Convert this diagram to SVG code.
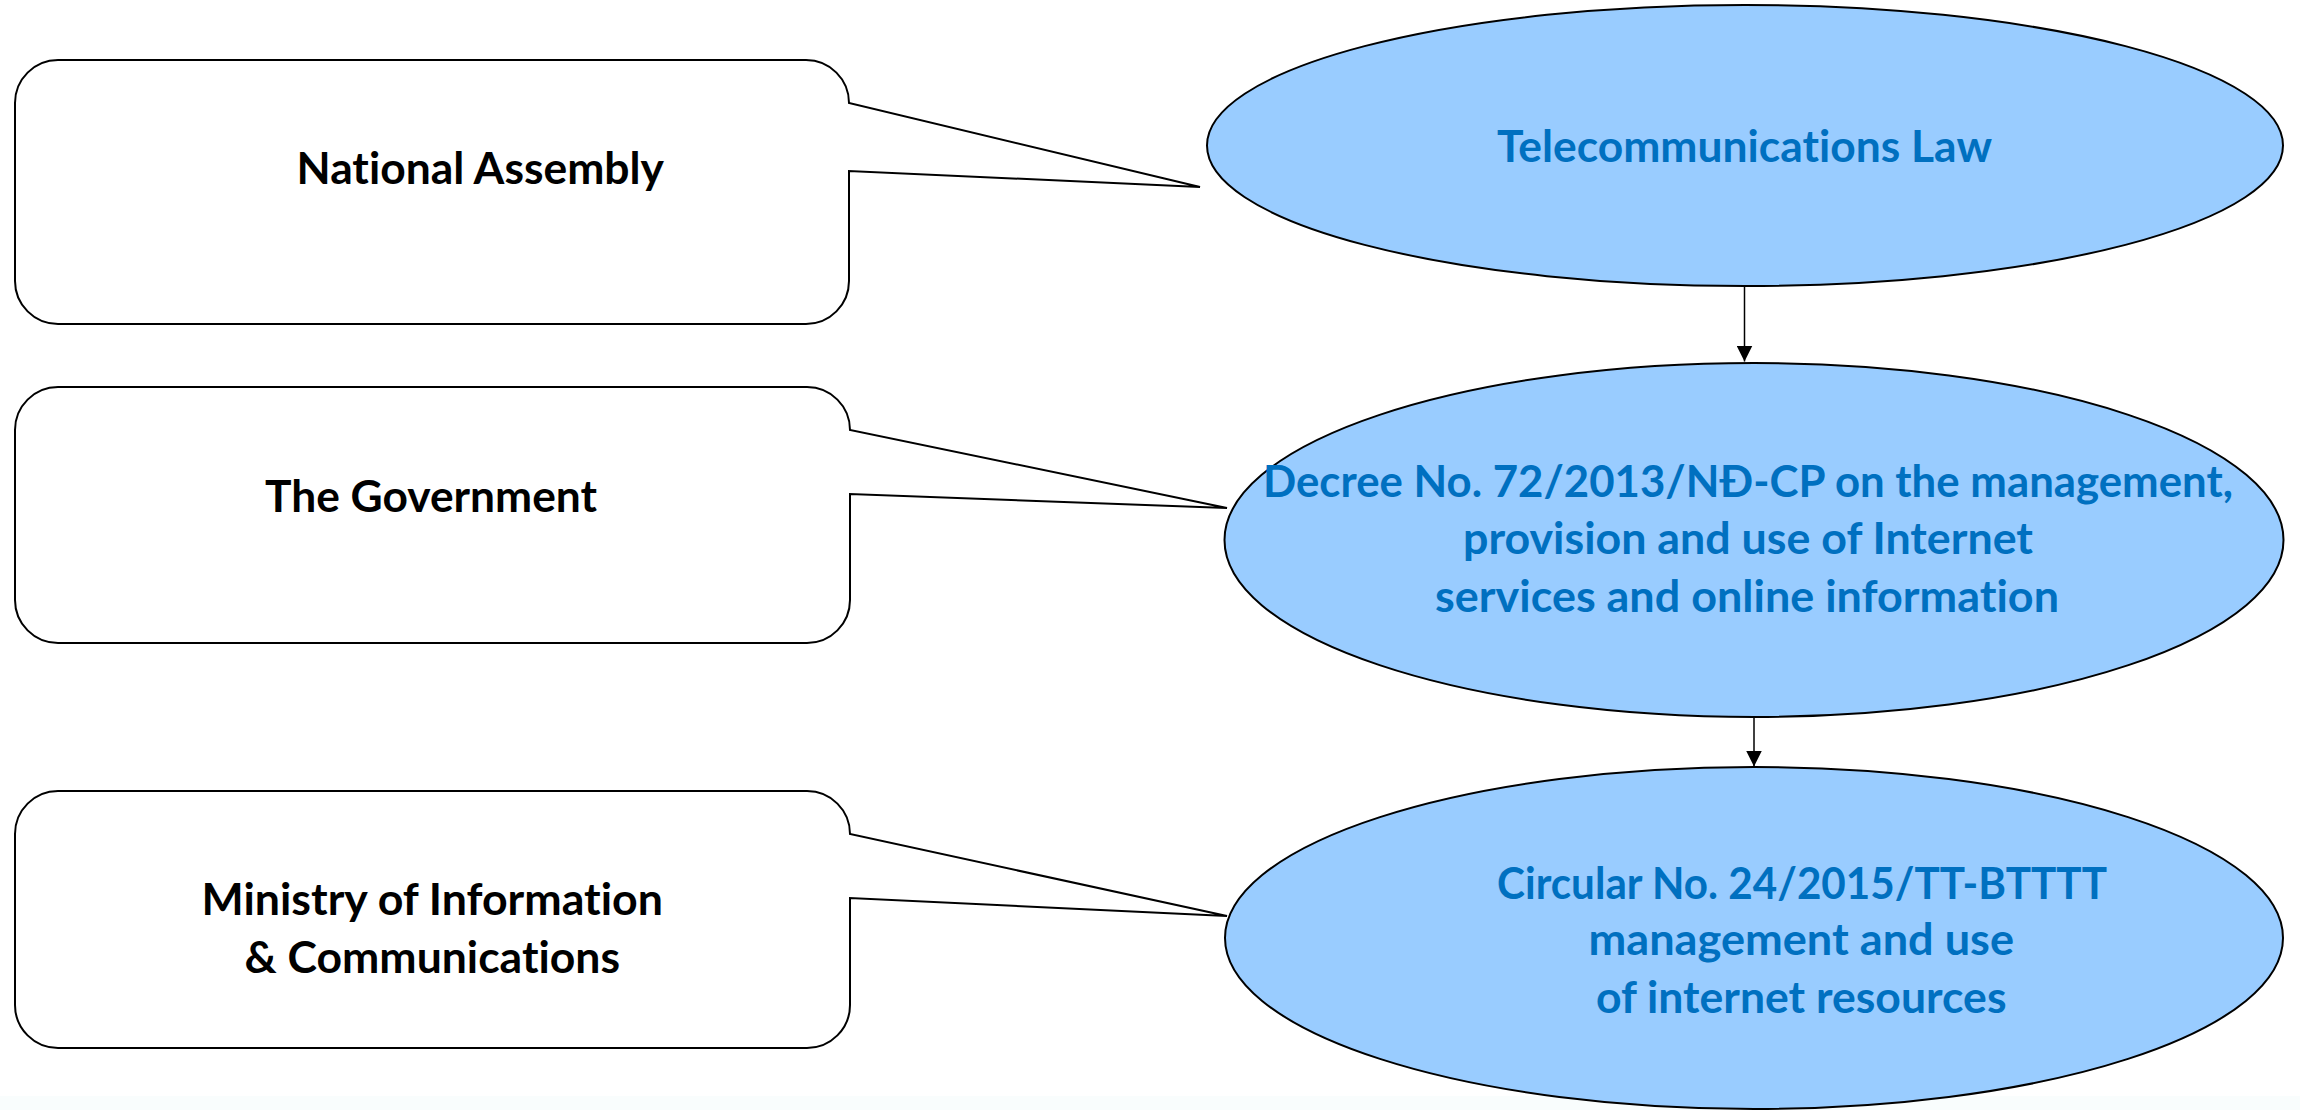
<svg xmlns="http://www.w3.org/2000/svg" width="2300" height="1110" viewBox="0 0 2300 1110">
  <style>
    .callout { fill: #ffffff; stroke: #000000; stroke-width: 2; stroke-linejoin: miter; }
    .oval { fill: #99CCFF; stroke: #000000; stroke-width: 2; }
    .lbl { font-family: "Lato", "Liberation Sans", sans-serif; font-weight: bold; font-size: 44px; fill: #000000; font-variant-ligatures: none; }
    .doc { font-family: "Lato", "Liberation Sans", sans-serif; font-weight: bold; font-size: 44px; fill: #0070C0; font-variant-ligatures: none; }
    .conn { stroke: #000000; stroke-width: 1.5; fill: none; }
  </style>
  <defs>
    <marker id="arrow" viewBox="0 0 16 16" refX="16" refY="8" markerWidth="16" markerHeight="16" markerUnits="userSpaceOnUse" orient="auto">
      <path d="M0,0 L16,8 L0,16 Z" fill="#000000"/>
    </marker>
  </defs>
  <rect x="0" y="0" width="2300" height="1110" fill="#ffffff"/>
  <rect x="0" y="1096" width="2300" height="14" fill="#f9fdfd"/>

  <g id="national-assembly">
    <path class="callout" d="M58,60 H806 A43,43 0 0 1 849,103 L1200,187 L849,171 V281 A43,43 0 0 1 806,324 H58 A43,43 0 0 1 15,281 V103 A43,43 0 0 1 58,60 Z"/>
    <text class="lbl" x="296.5" y="184" textLength="367.5" lengthAdjust="spacingAndGlyphs">National Assembly</text>
  </g>

  <g id="government">
    <path class="callout" d="M58,387 H807 A43,43 0 0 1 850,430 L1227,508 L850,494 V600 A43,43 0 0 1 807,643 H58 A43,43 0 0 1 15,600 V430 A43,43 0 0 1 58,387 Z"/>
    <text class="lbl" x="265" y="512" textLength="332" lengthAdjust="spacingAndGlyphs">The Government</text>
  </g>

  <g id="ministry">
    <path class="callout" d="M58,791 H807 A43,43 0 0 1 850,834 L1227,916 L850,898 V1005 A43,43 0 0 1 807,1048 H58 A43,43 0 0 1 15,1005 V834 A43,43 0 0 1 58,791 Z"/>
    <text class="lbl" x="201.5" y="915" textLength="461.5" lengthAdjust="spacingAndGlyphs">Ministry of Information</text>
    <text class="lbl" x="244.5" y="973" textLength="375.5" lengthAdjust="spacingAndGlyphs">&amp; Communications</text>
  </g>

  <g id="telecom-law">
    <ellipse class="oval" cx="1745" cy="145.5" rx="538" ry="140.5"/>
    <text class="doc" x="1497" y="162" textLength="495" lengthAdjust="spacingAndGlyphs">Telecommunications Law</text>
  </g>

  <g id="decree">
    <ellipse class="oval" cx="1754" cy="540" rx="529.5" ry="177"/>
    <text class="doc" x="1263" y="497" textLength="970" lengthAdjust="spacingAndGlyphs">Decree No. 72/2013/NĐ-CP on the management,</text>
    <text class="doc" x="1463" y="553.5" textLength="570" lengthAdjust="spacingAndGlyphs">provision and use of Internet</text>
    <text class="doc" x="1435" y="611.5" textLength="624" lengthAdjust="spacingAndGlyphs">services and online information</text>
  </g>

  <g id="circular">
    <ellipse class="oval" cx="1754" cy="938" rx="529" ry="171"/>
    <text class="doc" x="1497" y="898.5" textLength="610" lengthAdjust="spacingAndGlyphs">Circular No. 24/2015/TT-BTTTT</text>
    <text class="doc" x="1588.5" y="955" textLength="425.5" lengthAdjust="spacingAndGlyphs">management and use</text>
    <text class="doc" x="1596" y="1013" textLength="410.5" lengthAdjust="spacingAndGlyphs">of internet resources</text>
  </g>

  <g id="connectors">
    <line class="conn" x1="1744.5" y1="286" x2="1744.5" y2="361.5" marker-end="url(#arrow)"/>
    <line class="conn" x1="1754" y1="717" x2="1754" y2="766.5" marker-end="url(#arrow)"/>
  </g>
</svg>
